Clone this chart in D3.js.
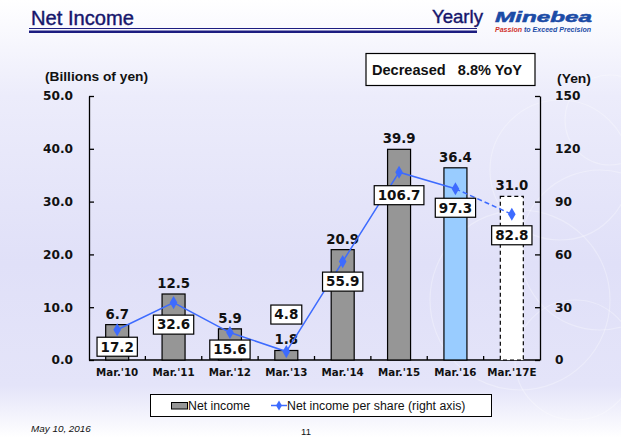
<!DOCTYPE html>
<html>
<head>
<meta charset="utf-8">
<script src="https://cdn.jsdelivr.net/npm/d3@7"></script>
<style>
	body { margin: 0; padding: 0; overflow: hidden; }
	svg { display: block; }
</style>
</head>
<body>
<svg id="chart" width="621" height="438"></svg>
<script>
// chart data
var categories = ["Mar.'10", "Mar.'11", "Mar.'12", "Mar.'13", "Mar.'14", "Mar.'15", "Mar.'16", "Mar.'17E"];
var netIncome = [6.7, 12.5, 5.9, 1.8, 20.9, 39.9, 36.4, 31.0];
var perShare = [17.2, 32.6, 15.6, 4.8, 55.9, 106.7, 97.3, 82.8];
var leftTicks = [0, 10, 20, 30, 40, 50];
var rightTicks = [0, 30, 60, 90, 120, 150];
// label box shift (px) relative to its point, hand placed like the slide
var boxShift = [17, 22, 17, -37, 20, 23, 19, 21];

var svg = d3.select("#chart");
var W = 621, H = 438;

// --------------------------------------------
// background
// --------------------------------------------
var defs = svg.append("defs");
var grad = defs.append("linearGradient")
	.attr("id", "bg")
	.attr("x1", 0).attr("y1", 0).attr("x2", 0).attr("y2", 1);
grad.append("stop").attr("offset", "0%").attr("stop-color", "#ffffff");
grad.append("stop").attr("offset", "22%").attr("stop-color", "#ececfb");
grad.append("stop").attr("offset", "60%").attr("stop-color", "#e0e0f8");
grad.append("stop").attr("offset", "88%").attr("stop-color", "#e4e4f9");
grad.append("stop").attr("offset", "100%").attr("stop-color", "#ffffff");

svg.append("rect").attr("width", W).attr("height", H).attr("fill", "url(#bg)");

// faint decorative rings on the right
var rings = [[560, 170, 70], [600, 250, 80], [520, 300, 90], [610, 120, 45], [575, 360, 60]];
svg.append("g")
	.selectAll("circle")
	.data(rings)
	.enter().append("circle")
	.attr("cx", d => d[0]).attr("cy", d => d[1]).attr("r", d => d[2])
	.attr("fill", "none")
	.attr("stroke", "#ffffff")
	.attr("stroke-opacity", 0.3)
	.attr("stroke-width", 1.2);

// --------------------------------------------
// header
// --------------------------------------------
var navy = "#15156b";

svg.append("text")
	.attr("x", 31).attr("y", 25)
	.attr("textLength", 103)
	.attr("lengthAdjust", "spacingAndGlyphs")
	.style("font-family", "'Liberation Sans', Arial")
	.style("font-size", "20px")
	.attr("fill", navy)
	.attr("stroke", navy).attr("stroke-width", 0.4)
	.text("Net Income");

svg.append("text")
	.attr("x", 432).attr("y", 22.7)
	.attr("textLength", 51)
	.attr("lengthAdjust", "spacingAndGlyphs")
	.style("font-family", "'Liberation Sans', Arial")
	.style("font-size", "18.5px")
	.attr("fill", navy)
	.attr("stroke", navy).attr("stroke-width", 0.4)
	.text("Yearly");

svg.append("line")
	.attr("x1", 29).attr("x2", 477).attr("y1", 28.5).attr("y2", 28.5)
	.attr("stroke", "#1c1c80").attr("stroke-width", 1);
svg.append("line")
	.attr("x1", 29).attr("x2", 477).attr("y1", 31.8).attr("y2", 31.8)
	.attr("stroke", "#1c1c80").attr("stroke-width", 2.4);

svg.append("text")
	.attr("x", 495).attr("y", 21.7)
	.attr("textLength", 97)
	.attr("lengthAdjust", "spacingAndGlyphs")
	.style("font-family", "'Liberation Sans', Arial")
	.style("font-size", "15px")
	.style("font-weight", "bold")
	.style("font-style", "italic")
	.attr("fill", "#1b4ba6")
	.attr("stroke", "#1b4ba6").attr("stroke-width", 0.5)
	.text("Minebea");

var tag = svg.append("text")
	.attr("x", 495).attr("y", 31.5)
	.attr("textLength", 96)
	.attr("lengthAdjust", "spacingAndGlyphs")
	.style("font-family", "'Liberation Sans', Arial")
	.style("font-size", "7.5px")
	.style("font-weight", "bold")
	.style("font-style", "italic");
tag.append("tspan").attr("fill", "#d0302a").text("Passion ");
tag.append("tspan").attr("fill", "#1b4ba6").text("to Exceed Precision");

// --------------------------------------------
// scales and axes
// --------------------------------------------
var plotLeft = 89, plotRight = 540, plotTop = 96, plotBottom = 360;

var x = d3.scaleBand()
	.domain(categories)
	.range([plotLeft, plotRight]);

var yL = d3.scaleLinear().domain([0, 50]).range([plotBottom, plotTop]);
var yR = d3.scaleLinear().domain([0, 150]).range([plotBottom, plotTop]);

var tickFont = "'DejaVu Sans', Verdana, sans-serif";

var axL = svg.append("g")
	.attr("transform", "translate(" + plotLeft + ",0)")
	.call(d3.axisLeft(yL).tickValues(leftTicks).tickFormat(d3.format(".1f")).tickSizeInner(-5).tickSizeOuter(0).tickPadding(16));

var axR = svg.append("g")
	.attr("transform", "translate(" + plotRight + ",0)")
	.call(d3.axisRight(yR).tickValues(rightTicks).tickSizeInner(-5).tickSizeOuter(0).tickPadding(15));

[axL, axR].forEach(function(ax) {
	ax.select(".domain").attr("stroke", "#000").attr("stroke-width", 1.3);
	ax.selectAll(".tick line").attr("stroke", "#000").attr("stroke-width", 1.3);
	ax.selectAll(".tick text")
		.style("font-family", tickFont)
		.style("font-size", "12.2px")
		.style("font-weight", "bold")
		.attr("fill", "#111");
});

// category axis: ticks between bands, pointing up
svg.append("line")
	.attr("x1", plotLeft).attr("x2", plotRight).attr("y1", plotBottom).attr("y2", plotBottom)
	.attr("stroke", "#000").attr("stroke-width", 1.3);

svg.append("g")
	.selectAll("line")
	.data(categories.slice(1))
	.enter().append("line")
	.attr("x1", d => x(d)).attr("x2", d => x(d))
	.attr("y1", plotBottom).attr("y2", plotBottom - 4)
	.attr("stroke", "#000").attr("stroke-width", 1.3);

svg.append("g")
	.selectAll("text")
	.data(categories)
	.enter().append("text")
	.attr("x", d => x(d) + x.bandwidth() / 2)
	.attr("y", plotBottom + 16)
	.attr("text-anchor", "middle")
	.style("font-family", tickFont)
	.style("font-size", "10.3px")
	.style("font-weight", "bold")
	.attr("fill", "#111")
	.text(d => d);

svg.append("text")
	.attr("x", 45).attr("y", 81)
	.attr("textLength", 103)
	.attr("lengthAdjust", "spacingAndGlyphs")
	.style("font-family", "'Liberation Sans', Arial")
	.style("font-size", "13.7px")
	.style("font-weight", "bold")
	.attr("fill", "#111")
	.text("(Billions of yen)");

svg.append("text")
	.attr("x", 557).attr("y", 82.5)
	.attr("textLength", 34)
	.attr("lengthAdjust", "spacingAndGlyphs")
	.style("font-family", "'Liberation Sans', Arial")
	.style("font-size", "13.7px")
	.style("font-weight", "bold")
	.attr("fill", "#111")
	.text("(Yen)");

// YoY box
svg.append("rect")
	.attr("x", 366).attr("y", 53.5).attr("width", 169).attr("height", 32)
	.attr("fill", "#fff").attr("stroke", "#000").attr("stroke-width", 1.2);
svg.append("text")
	.attr("x", 372).attr("y", 74.7)
	.attr("textLength", 150)
	.attr("lengthAdjust", "spacingAndGlyphs")
	.attr("xml:space", "preserve")
	.style("font-family", "'Liberation Sans', Arial")
	.style("font-size", "14.5px")
	.style("font-weight", "bold")
	.attr("fill", "#111")
	.text("Decreased   8.8% YoY");

// --------------------------------------------
// bars
// --------------------------------------------
var barW = 23;
var barData = categories.map((c, i) => ({ cat: c, value: netIncome[i], i: i }));

function barFill(d) {
	if (d.i === 6) return "#99ccff";
	if (d.i === 7) return "#ffffff";
	return "#969696";
}

svg.append("g")
	.selectAll("rect")
	.data(barData)
	.enter().append("rect")
	.attr("x", d => x(d.cat) + x.bandwidth() / 2 - barW / 2)
	.attr("y", d => yL(d.value))
	.attr("width", barW)
	.attr("height", d => plotBottom - yL(d.value))
	.attr("fill", barFill)
	.attr("stroke", "#000")
	.attr("stroke-width", 1.2)
	.attr("stroke-dasharray", d => d.i === 7 ? "4,3" : null);

svg.append("g")
	.selectAll("text")
	.data(barData)
	.enter().append("text")
	.attr("x", d => x(d.cat) + x.bandwidth() / 2)
	.attr("y", d => yL(d.value) - 6)
	.attr("text-anchor", "middle")
	.style("font-family", tickFont)
	.style("font-size", "13.3px")
	.style("font-weight", "bold")
	.attr("fill", "#111")
	.text(d => d3.format(".1f")(d.value));

// --------------------------------------------
// per share line
// --------------------------------------------
var pts = categories.map((c, i) => ({ cat: c, value: perShare[i], i: i }));
var lineGen = d3.line()
	.x(d => x(d.cat) + x.bandwidth() / 2)
	.y(d => yR(d.value));

var blue = "#3d6bff";

svg.append("path")
	.attr("d", lineGen(pts.slice(0, 7)))
	.attr("fill", "none").attr("stroke", blue).attr("stroke-width", 1.5);
svg.append("path")
	.attr("d", lineGen(pts.slice(6)))
	.attr("fill", "none").attr("stroke", blue).attr("stroke-width", 1.5)
	.attr("stroke-dasharray", "5,3");

svg.append("g")
	.selectAll("path")
	.data(pts)
	.enter().append("path")
	.attr("d", d3.symbol().type(d3.symbolDiamond).size(50))
	.attr("transform", d => "translate(" + (x(d.cat) + x.bandwidth() / 2) + "," + yR(d.value) + ")")
	.attr("fill", blue);

// value boxes
var boxes = svg.append("g")
	.selectAll("g")
	.data(pts)
	.enter().append("g")
	.attr("transform", d => "translate(" + (x(d.cat) + x.bandwidth() / 2) + "," + (yR(d.value) + boxShift[d.i]) + ")");

boxes.append("text")
	.attr("text-anchor", "middle")
	.attr("dy", "0.36em")
	.style("font-family", tickFont)
	.style("font-size", "13.5px")
	.style("font-weight", "bold")
	.attr("fill", "#111")
	.text(d => d3.format(".1f")(d.value))
	.each(function() {
		var bb = this.getBBox();
		d3.select(this.parentNode).insert("rect", "text")
			.attr("x", bb.x - 3.5).attr("y", -9.5)
			.attr("width", bb.width + 7).attr("height", 19)
			.attr("fill", "#fff").attr("stroke", "#000").attr("stroke-width", 1.2);
	});

// --------------------------------------------
// legend
// --------------------------------------------
var lg = svg.append("g");
lg.append("rect")
	.attr("x", 150.5).attr("y", 394.5).attr("width", 341).attr("height", 22)
	.attr("fill", "#fff").attr("stroke", "#000").attr("stroke-width", 1);
lg.append("rect")
	.attr("x", 171.5).attr("y", 402.5).attr("width", 16).attr("height", 6.5)
	.attr("fill", "#969696").attr("stroke", "#000").attr("stroke-width", 1);
lg.append("text")
	.attr("x", 188).attr("y", 410)
	.style("font-family", "'Liberation Sans', Arial")
	.style("font-size", "12.3px")
	.attr("fill", "#111")
	.text("Net income");
lg.append("line")
	.attr("x1", 271).attr("x2", 287).attr("y1", 405.5).attr("y2", 405.5)
	.attr("stroke", blue).attr("stroke-width", 1.5);
lg.append("path")
	.attr("d", d3.symbol().type(d3.symbolDiamond).size(30))
	.attr("transform", "translate(279,405.5)")
	.attr("fill", blue);
lg.append("text")
	.attr("x", 287).attr("y", 410)
	.style("font-family", "'Liberation Sans', Arial")
	.style("font-size", "12.3px")
	.attr("fill", "#111")
	.text("Net income per share (right axis)");

// footer
svg.append("text")
	.attr("x", 31).attr("y", 432)
	.style("font-family", "'Liberation Sans', Arial")
	.style("font-size", "9.9px")
	.style("font-style", "italic")
	.attr("fill", "#111")
	.text("May 10, 2016");
svg.append("text")
	.attr("x", 306).attr("y", 434.5)
	.attr("text-anchor", "middle")
	.style("font-family", "'Liberation Sans', Arial")
	.style("font-size", "9.5px")
	.attr("fill", "#111")
	.text("11");
</script>
</body>
</html>
